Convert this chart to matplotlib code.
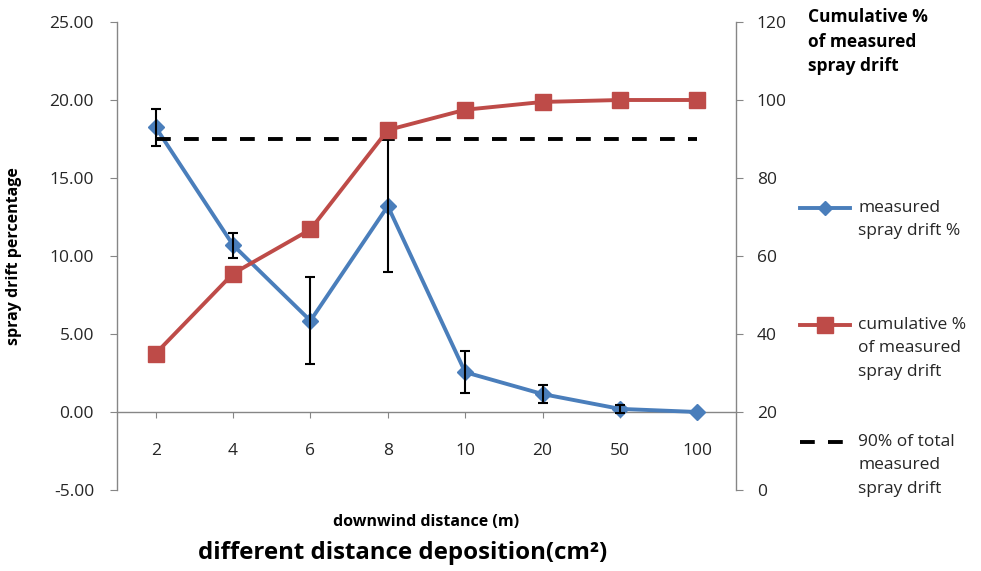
import matplotlib
matplotlib.use("Agg")
import matplotlib.pyplot as plt
from matplotlib.lines import Line2D
import numpy as np

plt.rcParams['font.family'] = ['Open Sans', 'DejaVu Sans']

categories = ["2", "4", "6", "8", "10", "20", "50", "100"]
measured = [18.25, 10.7, 5.85, 13.2, 2.55, 1.15, 0.2, 0.0]
err_upper = [19.4, 11.5, 8.65, 17.5, 3.9, 1.7, 0.45, 0.0]
err_lower = [17.05, 9.85, 3.1, 8.95, 1.2, 0.6, -0.05, 0.0]
cumulative = [35.0, 55.5, 66.8, 92.3, 97.5, 99.5, 100.0, 100.0]
threshold = [90] * len(categories)

left_ticks = [-5, 0, 5, 10, 15, 20, 25]
right_ticks = [0, 20, 40, 60, 80, 100, 120]

legend_labels = ["measured\nspray drift %", "cumulative %\nof measured\nspray drift",
                 "90% of total\nmeasured\nspray drift"]

BLUE = "#4A7EBB"
RED = "#BE4B48"
GRAY = "#868686"
TXT = "#262626"
DASH = (0, (3.8, 3.4))

fig = plt.figure(figsize=(9.81, 5.71), dpi=100)
ax = fig.add_axes([117/981, 1-490/571, (736-117)/981, (490-22)/571])
ax2 = ax.twinx()

x = np.arange(len(categories))
m = np.array(measured)
lo = m - np.array(err_lower)
hi = np.array(err_upper) - m
ax.errorbar(x[:-1], m[:-1], yerr=[lo[:-1], hi[:-1]], fmt='none',
            ecolor='black', elinewidth=1.5, capsize=3.6, capthick=1.5, zorder=4)
ax.plot(x, measured, color=BLUE, lw=2.8, marker='D', ms=8.5, mec=BLUE, mfc=BLUE, zorder=3)

ax2.plot(x, cumulative, color=RED, lw=2.8, marker='s', ms=11, mec=RED, mfc=RED, zorder=3)
ax2.plot(x, threshold, color='black', lw=2.8, ls=DASH, zorder=2)

ax.set_xlim(-0.5, len(categories) - 0.5)
ax.set_ylim(-5, 25)
ax.set_yticks(left_ticks)
ax.set_yticklabels([f"{v:.2f}" for v in left_ticks])
ax2.set_ylim(0, 120)
ax2.set_yticks(right_ticks)
ax2.set_yticklabels([str(v) for v in right_ticks])
ax.set_xticks(x)
ax.set_xticklabels(categories)

for a in (ax, ax2):
    a.spines['top'].set_visible(False)
    for s in a.spines.values():
        s.set_color(GRAY)
        s.set_linewidth(1.0)
ax.spines['bottom'].set_position(('data', 0))
ax2.spines['bottom'].set_visible(False)
ax.spines['right'].set_visible(False)
ax2.spines['left'].set_visible(False)

ax.tick_params(axis='y', direction='out', length=5, color=GRAY, labelsize=12.5, labelcolor=TXT, pad=11.5)
ax.tick_params(axis='x', direction='out', length=4, color=GRAY, labelsize=12.5, labelcolor=TXT, pad=18)
ax2.tick_params(axis='y', direction='out', length=5, color=GRAY, labelsize=12.5, labelcolor=TXT, pad=10)

ax.set_ylabel("spray drift percentage", fontsize=11.5, fontweight='bold', color='black')
ax.yaxis.set_label_coords(-0.153, 0.5)

fig.text(426/981, 1-522/571, "downwind distance (m)", ha='center', va='center',
         fontsize=11.5, fontweight='bold')
fig.text(403/981, 1-553/571, "different distance deposition(cm²)", ha='center', va='center',
         fontsize=17.3, fontweight='bold')
fig.text(808/981, 1-8/571, "Cumulative %\nof measured\nspray drift", ha='left', va='top',
         fontsize=12.5, fontweight='bold', linespacing=1.48)

# legend (handle aligned with first text line, as in the reference)
leg_handles = [dict(color=BLUE, lw=2.8, marker='D', ms=7),
               dict(color=RED, lw=2.8, marker='s', ms=11),
               dict(color='black', lw=2.8, ls=DASH)]
leg_rows = [208, 325, 442]
for lab, hk, yy in zip(legend_labels, leg_handles, leg_rows):
    yf = 1 - yy/571
    style = dict(hk)
    mk = style.pop('marker', None)
    msz = style.pop('ms', None)
    x1 = 845 if mk is None else 850
    fig.add_artist(Line2D([800/981, x1/981], [yf, yf], transform=fig.transFigure, **style))
    if mk is not None:
        fig.add_artist(Line2D([825/981], [yf], transform=fig.transFigure, marker=mk, ms=msz,
                              color=style['color'], ls='none'))
    fig.text(858/981, yf + 8/571, lab, ha='left', va='top', fontsize=12.5, color=TXT,
             linespacing=1.62)

fig.savefig("out.png", dpi=100)
